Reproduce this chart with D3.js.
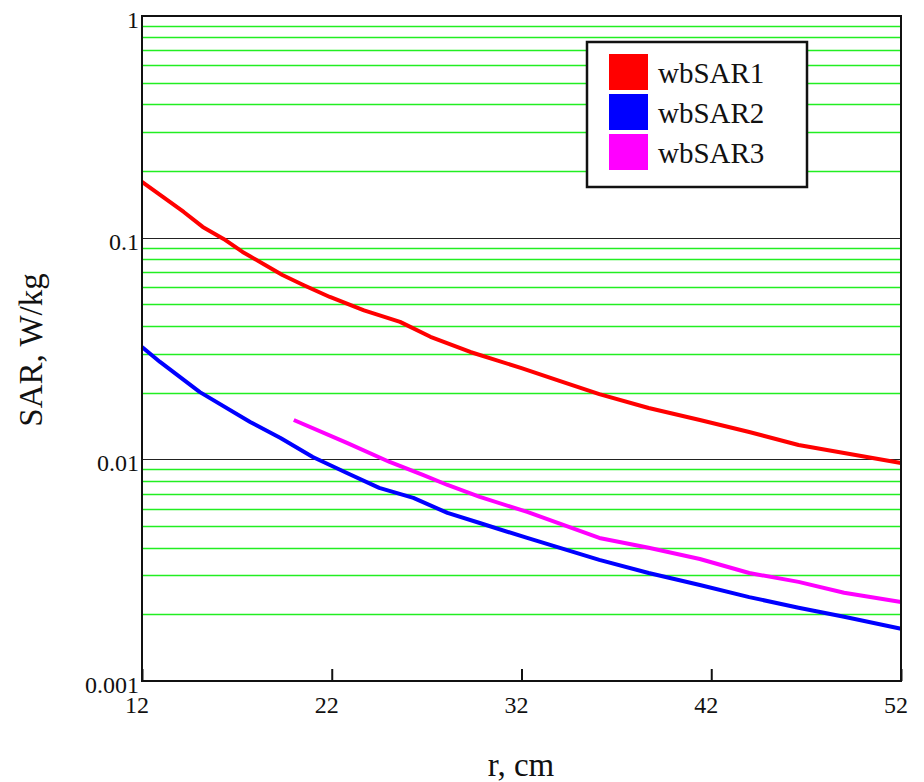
<!DOCTYPE html>
<html>
<head>
<meta charset="utf-8">
<script src="https://cdn.jsdelivr.net/npm/d3@7"></script>
<style>
	body { margin: 0; background: #fff; }
</style>
</head>
<body>
<div id="chart"></div>
<script>
'use strict';

// Adatsorok (r cm-ben, SAR W/kg-ban).
var r1 = [12, 13.1, 14.2, 15.2, 16.3, 17.3, 18.4, 19.4, 20.5, 21.9, 23.7, 25.6, 27.2, 29.3, 32, 34, 36.1, 38.7, 41.4, 44, 46.6, 49, 52];
var wbSAR1 = [0.1783, 0.1527, 0.1306, 0.1118, 0.0987, 0.0862, 0.0761, 0.0679, 0.0612, 0.0540, 0.0470, 0.0417, 0.0357, 0.0305, 0.0258, 0.0226, 0.0197, 0.01705, 0.01505, 0.01329, 0.01161, 0.01069, 0.00963];

var r2 = [12, 12.95, 15.05, 17.7, 19.3, 21.0, 22.8, 24.5, 26.3, 28.1, 29.8, 32.3, 36.1, 38.7, 41.4, 44, 46.6, 49, 52];
var wbSAR2 = [0.0321, 0.0275, 0.0201, 0.01475, 0.01249, 0.01025, 0.00868, 0.00743, 0.00670, 0.00573, 0.00516, 0.00442, 0.00352, 0.00307, 0.00271, 0.00239, 0.00214, 0.00195, 0.00172];

var r3 = [20.0, 22.8, 25.05, 26.8, 28.1, 29.8, 32.3, 36.1, 38.7, 41.4, 44, 46.6, 49, 52];
var wbSAR3 = [0.01505, 0.01186, 0.00973, 0.00850, 0.00766, 0.00677, 0.00579, 0.00442, 0.00399, 0.00355, 0.00307, 0.00280, 0.00250, 0.00227];

var xTicks = [12, 22, 32, 42, 52];
var yTicks = [0.001, 0.01, 0.1, 1];
var yTickLabels = ["0.001", "0.01", "0.1", "1"];
var seriesNames = ["wbSAR1", "wbSAR2", "wbSAR3"];
var seriesColors = ["#ff0000", "#0000ff", "#ff00ff"];

var W = 924, H = 782;
var FONT = "'Liberation Serif', 'Times New Roman', serif";
var plot = {left: 142, right: 901, top: 16, bottom: 681};

var x = d3.scaleLinear().domain([12, 52]).range([plot.left, plot.right]);
var y = d3.scaleLog().domain([0.001, 1]).range([plot.bottom, plot.top]);

var svg = d3.select("#chart").append("svg")
		.attr("width", W)
		.attr("height", H)
		.attr("font-family", FONT);

// Rácsvonalak: zöld a köztes értékeknél, fekete a dekádoknál.
var minor = [];
yTicks.slice(0, -1).forEach(function(d) {
	for (var k = 2; k <= 9; k++) {
		minor.push(d * k);
	}
});

svg.append("g").selectAll("line").data(minor)
		.enter().append("line")
		.attr("x1", plot.left)
		.attr("x2", plot.right)
		.attr("y1", function(d) { return Math.round(y(d)) + 0.5; })
		.attr("y2", function(d) { return Math.round(y(d)) + 0.5; })
		.attr("stroke", "#22ee22")
		.attr("stroke-width", 1.3);

svg.append("g").selectAll("line").data(yTicks.slice(1, -1))
		.enter().append("line")
		.attr("x1", plot.left)
		.attr("x2", plot.right)
		.attr("y1", function(d) { return Math.round(y(d)) + 0.5; })
		.attr("y2", function(d) { return Math.round(y(d)) + 0.5; })
		.attr("stroke", "#222")
		.attr("stroke-width", 1.2);

// Görbék.
var line = d3.line()
		.x(function(d) { return x(d[0]); })
		.y(function(d) { return y(d[1]); });

var series = [d3.zip(r1, wbSAR1), d3.zip(r2, wbSAR2), d3.zip(r3, wbSAR3)];

svg.append("g").selectAll("path").data(series)
		.enter().append("path")
		.attr("d", line)
		.attr("fill", "none")
		.attr("stroke", function(d, i) { return seriesColors[i]; })
		.attr("stroke-width", 4)
		.attr("stroke-linejoin", "round");

// Keret.
svg.append("rect")
		.attr("x", plot.left)
		.attr("y", plot.top)
		.attr("width", plot.right - plot.left)
		.attr("height", plot.bottom - plot.top)
		.attr("fill", "none")
		.attr("stroke", "#111")
		.attr("stroke-width", 2);

// X tengely: befelé mutató osztásjelek és feliratok.
var gx = svg.append("g").attr("transform", "translate(0," + plot.bottom + ")");
gx.call(d3.axisTop(x).tickValues(xTicks).tickSize(12).tickFormat(""))
		.call(function(g) { g.select(".domain").remove(); })
		.selectAll(".tick line")
		.attr("stroke", "#111")
		.attr("stroke-width", 2);

gx.selectAll(".xlabel").data(xTicks)
		.enter().append("text")
		.attr("class", "xlabel")
		.attr("x", function(d) { return x(d) - 5; })
		.attr("y", 32)
		.attr("font-family", FONT)
		.attr("font-size", 24)
		.attr("fill", "#111")
		.text(function(d) { return d; });

// Y tengely feliratai.
svg.append("g").selectAll("text").data(yTicks)
		.enter().append("text")
		.attr("x", plot.left - 3)
		.attr("y", function(d) { return y(d) + 12; })
		.attr("text-anchor", "end")
		.attr("font-size", 24)
		.attr("fill", "#111")
		.text(function(d, i) { return yTickLabels[i]; });

// Tengelycímek.
svg.append("text")
		.attr("x", 521)
		.attr("y", 776)
		.attr("text-anchor", "middle")
		.attr("font-size", 33)
		.attr("fill", "#111")
		.text("r, cm");

svg.append("text")
		.attr("transform", "translate(42,350) rotate(-90)")
		.attr("text-anchor", "middle")
		.attr("font-size", 33)
		.attr("fill", "#111")
		.text("SAR, W/kg");

// Jelkulcs.
var legend = svg.append("g").attr("transform", "translate(587,42)");
legend.append("rect")
		.attr("width", 220)
		.attr("height", 145)
		.attr("fill", "#fff")
		.attr("stroke", "#111")
		.attr("stroke-width", 2.5);

var items = legend.selectAll(".item").data(seriesNames)
		.enter().append("g")
		.attr("class", "item")
		.attr("transform", function(d, i) { return "translate(0," + (i * 40) + ")"; });

items.append("rect")
		.attr("x", 22)
		.attr("y", 12)
		.attr("width", 39)
		.attr("height", 36)
		.attr("fill", function(d, i) { return seriesColors[i]; });

items.append("text")
		.attr("x", 71)
		.attr("y", 41)
		.attr("font-size", 29)
		.attr("fill", "#111")
		.text(function(d) { return d; });
</script>
</body>
</html>
